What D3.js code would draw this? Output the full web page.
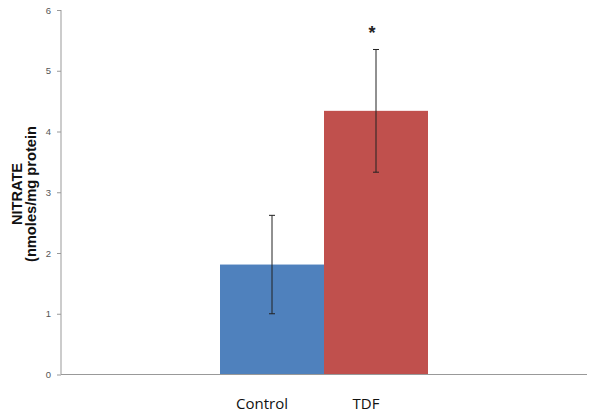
<!DOCTYPE html>
<html>
<head>
<meta charset="utf-8">
<script src="https://cdn.jsdelivr.net/npm/d3@7"></script>
<style>
  body { margin: 0; background: #fff; }
  svg { display: block; }
</style>
</head>
<body>
<svg id="chart" width="600" height="415"></svg>
<script>
// data
var groups = ["Control", "TDF"];
var means = [1.81, 4.34];
var errors = [0.81, 1.01];
var marks = ["", "*"];
var colors = ["#4F81BD", "#C0504D"];
var yTicks = [0, 1, 2, 3, 4, 5, 6];

var svg = d3.select('#chart');

var plot = {l: 61, r: 587, t: 10, b: 374.5};

var xScale = d3.scaleBand()
    .domain(groups)
    .range([220, 428])
    .padding(0);

var yScale = d3.scaleLinear()
    .domain([0, 6])
    .range([plot.b, plot.t]);

// bars
svg.selectAll('.bar')
    .data(groups)
    .enter()
    .append('rect')
    .attr('class', 'bar')
    .attr('x', function(d){ return xScale(d); })
    .attr('width', xScale.bandwidth())
    .attr('y', function(d, i){ return yScale(means[i]); })
    .attr('height', function(d, i){ return yScale(0) - yScale(means[i]); })
    .style('fill', function(d, i){ return colors[i]; });

// error bars
var errG = svg.selectAll('.err')
    .data(groups)
    .enter()
    .append('g')
    .attr('class', 'err')
    .attr('transform', function(d){
        return 'translate(' + (xScale(d) + xScale.bandwidth() / 2) + ',0)';
    })
    .style('stroke', '#222')
    .style('stroke-width', 1);

errG.append('line')
    .attr('y1', function(d, i){ return yScale(means[i] + errors[i]); })
    .attr('y2', function(d, i){ return yScale(means[i] - errors[i]); });
errG.append('line')
    .attr('x1', -3).attr('x2', 3)
    .attr('y1', function(d, i){ return yScale(means[i] + errors[i]); })
    .attr('y2', function(d, i){ return yScale(means[i] + errors[i]); });
errG.append('line')
    .attr('x1', -3).attr('x2', 3)
    .attr('y1', function(d, i){ return yScale(means[i] - errors[i]); })
    .attr('y2', function(d, i){ return yScale(means[i] - errors[i]); });

// significance mark
svg.selectAll('.mark')
    .data(groups)
    .enter()
    .append('text')
    .attr('class', 'mark')
    .attr('x', function(d){ return xScale(d) + xScale.bandwidth() / 2 - 4; })
    .attr('y', function(d, i){ return yScale(means[i] + errors[i]) - 10; })
    .attr('text-anchor', 'middle')
    .style('font-family', 'Liberation Sans, Arial, sans-serif')
    .style('font-weight', 'bold')
    .style('font-size', '18px')
    .style('fill', '#222')
    .text(function(d, i){ return marks[i]; });

// y axis
var yAxis = d3.axisLeft(yScale)
    .tickValues(yTicks)
    .tickSize(4)
    .tickPadding(6)
    .tickFormat(d3.format('d'));

var yG = svg.append('g')
    .attr('transform', 'translate(' + plot.l + ',0)')
    .call(yAxis);
yG.select('.domain').attr('d', 'M0,' + plot.t + 'V' + plot.b).style('stroke', '#999');
yG.selectAll('.tick line').style('stroke', '#999');
yG.selectAll('.tick text')
    .style('font-family', 'Liberation Sans, Arial, sans-serif')
    .style('font-size', '9.5px')
    .style('fill', '#555');

// x axis line
svg.append('line')
    .attr('x1', plot.l).attr('x2', plot.r)
    .attr('y1', yScale(0)).attr('y2', yScale(0))
    .style('stroke', '#999');

// category labels
svg.selectAll('.cat')
    .data(groups)
    .enter()
    .append('text')
    .attr('class', 'cat')
    .attr('x', function(d){ return xScale(d) + xScale.bandwidth() / 2 - 10; })
    .attr('y', 409)
    .attr('text-anchor', 'middle')
    .style('font-family', 'Open Sans, sans-serif')
    .style('font-size', '15px')
    .style('fill', '#111')
    .text(function(d){ return d; });

// y title
var title = svg.append('text')
    .attr('transform', 'translate(22,194) rotate(-90)')
    .attr('text-anchor', 'middle')
    .style('font-family', 'Liberation Sans, Arial, sans-serif')
    .style('font-weight', 'bold')
    .style('font-size', '15px')
    .style('fill', '#111');
title.append('tspan').attr('x', 0).attr('dy', 0)
    .attr('textLength', 62).attr('lengthAdjust', 'spacingAndGlyphs')
    .text('NITRATE');
title.append('tspan').attr('x', 0).attr('dy', 14)
    .attr('textLength', 136).attr('lengthAdjust', 'spacingAndGlyphs')
    .text('(nmoles/mg protein');
</script>
</body>
</html>
